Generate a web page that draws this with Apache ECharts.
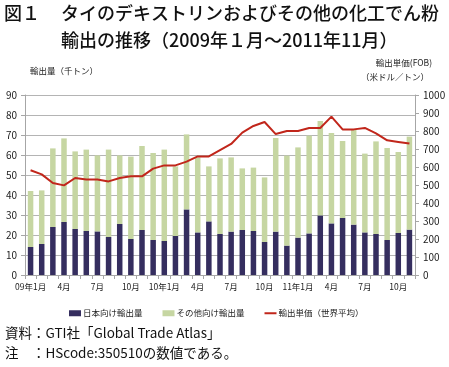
<!DOCTYPE html>
<html><head><meta charset="utf-8">
<script src="https://cdn.jsdelivr.net/npm/echarts@6/dist/echarts.min.js"></script>
<style>html,body{margin:0;padding:0;background:#fff}#c{width:449px;height:367px}</style>
</head><body><div id="c"></div>
<script>
const categories = ['09年1月','2月','3月','4月','5月','6月','7月','8月','9月','10月','11月','12月',
  '10年1月','2月','3月','4月','5月','6月','7月','8月','9月','10月','11月','12月',
  '11年1月','2月','3月','4月','5月','6月','7月','8月','9月','10月','11月'];
const japanVolume = [14.0,15.5,24.0,26.5,23.0,22.0,21.8,19.0,25.5,18.0,22.5,17.5,
  17.0,19.5,32.8,21.3,26.8,20.5,21.7,22.5,22.0,16.5,21.7,14.7,
  18.7,20.8,29.8,25.8,28.5,25.2,21.3,20.5,17.5,21.0,22.7];
const otherVolume = [28.0,26.8,39.3,41.8,38.8,40.7,38.0,43.7,34.3,41.2,42.0,43.5,
  45.7,34.8,37.5,37.5,27.5,37.8,37.1,30.8,31.7,32.3,46.8,45.0,
  45.1,48.9,47.2,45.2,38.5,47.5,39.4,46.3,46.0,40.5,46.5];
const unitPrice = [582,559,511,498,539,531,531,520,539,548,548,591,
  609,609,630,659,659,694,728,791,828,850,783,800,
  800,817,817,880,809,809,817,787,748,739,730];
const seriesNames = ['日本向け輸出量','その他向け輸出量','輸出単価（世界平均）'];
const titleLines = ['図１','タイのデキストリンおよびその他の化工でん粉','輸出の推移（2009年１月～2011年11月）'];
const noteLines = ['資料：GTI社「Global Trade Atlas」','注　：HScode:350510の数値である。'];

const FONT = '"Noto Sans CJK JP", "Noto Sans", sans-serif';
const chart = echarts.init(document.getElementById('c'));
const axisGray = '#a6a6a6';
chart.setOption({
  animation: false,
  textStyle: { fontFamily: FONT, color: '#222' },
  grid: { left: 25, right: 34, top: 95, bottom: 92 },
  graphic: [
    { type: 'text', left: 4, top: 4, style: { text: titleLines[0], font: '500 18px ' + FONT, fill: '#111' } },
    { type: 'text', left: 61, top: 4, style: { text: titleLines[1], font: '500 18px ' + FONT, fill: '#111' } },
    { type: 'text', left: 61, top: 31, style: { text: titleLines[2], font: '500 18px ' + FONT, fill: '#111' } },
    { type: 'text', left: 30, top: 67, style: { text: '輸出量（千トン）', font: '8.5px ' + FONT, fill: '#222' } },
    { type: 'text', right: 17, top: 59, style: { text: '輸出単価(FOB)', font: '8.5px ' + FONT, fill: '#222' } },
    { type: 'text', right: 20, top: 73, style: { text: '（米ドル／トン）', font: '8.5px ' + FONT, fill: '#222' } },
    { type: 'text', left: 5, top: 326, style: { text: noteLines[0], font: '13.5px ' + FONT, fill: '#111' } },
    { type: 'text', left: 5, top: 346, style: { text: noteLines[1], font: '13.5px ' + FONT, fill: '#111' } }
  ],
  legend: {
    top: 304, left: 64, itemWidth: 12, itemHeight: 6, itemGap: 20,
    textStyle: { fontSize: 8.5, fontFamily: FONT, color: '#222', padding: [0,0,0,-3] },
    data: [
      { name: seriesNames[0], icon: 'rect' },
      { name: seriesNames[1], icon: 'rect' },
      { name: seriesNames[2], icon: 'path://M0,0H12V2H0Z' }
    ]
  },
  xAxis: {
    type: 'category', data: categories,
    axisLine: { lineStyle: { color: axisGray } },
    axisTick: { show: true, interval: 0, lineStyle: { color: axisGray }, length: 4 },
    axisLabel: { interval: 2, fontSize: 8.5, color: '#222', margin: 8 }
  },
  yAxis: [
    {
      type: 'value', min: 0, max: 90, interval: 10,
      axisLine: { show: true, lineStyle: { color: axisGray } },
      axisTick: { show: true, lineStyle: { color: axisGray }, length: 4 },
      axisLabel: { fontSize: 10, color: '#222', margin: 8 },
      splitLine: { lineStyle: { color: '#b4b4b4', width: 1 } }
    },
    {
      type: 'value', min: 0, max: 1000, interval: 100, position: 'right',
      axisLine: { show: true, lineStyle: { color: axisGray } },
      axisTick: { show: true, lineStyle: { color: axisGray }, length: 4 },
      axisLabel: { fontSize: 10, color: '#222', margin: 8, formatter: function (v) { return String(v); } },
      splitLine: { show: false }
    }
  ],
  series: [
    { name: seriesNames[0], type: 'bar', stack: 'v', data: japanVolume, barWidth: 5.5,
      itemStyle: { color: '#352e5f' } },
    { name: seriesNames[1], type: 'bar', stack: 'v', data: otherVolume, barWidth: 5.5,
      itemStyle: { color: '#c6d6a2' } },
    { name: seriesNames[2], type: 'line', yAxisIndex: 1, data: unitPrice, symbol: 'none',
      lineStyle: { color: '#c1261b', width: 2 }, itemStyle: { color: '#c1261b' } }
  ]
});
</script></body></html>
